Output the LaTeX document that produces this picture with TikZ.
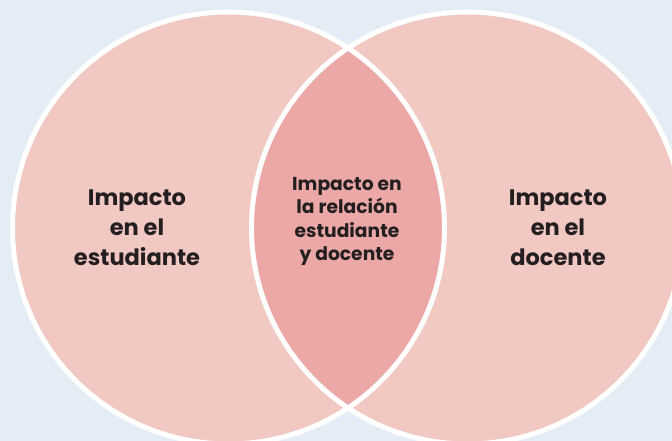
\documentclass[tikz,border=0pt]{standalone}
\usepackage{fontspec}
\setmainfont{Poppins}
\pgfdeclarelayer{background}
\pgfdeclarelayer{foreground}
\pgfsetlayers{background,main,foreground}
\definecolor{bgblue}{HTML}{E4ECF6}
\definecolor{petal}{HTML}{F2C8C3}
\definecolor{lensred}{HTML}{ECA8A6}
\definecolor{ink}{HTML}{231F20}
\tikzset{
  sidetext/.style={align=center,text=ink,font=\bfseries\fontsize{22.5}{30}\selectfont},
  midtext/.style={align=center,text=ink,font=\bfseries\fontsize{18.7}{23.5}\selectfont},
  rim/.style={draw=white,line width=5pt}
}

\begin{document}
\begin{tikzpicture}[x=1pt,y=-1pt]
\useasboundingbox (0,0) rectangle (672,441);
\coordinate (L) at (228.5,228);
\coordinate (R) at (467.5,228);
\begin{pgfonlayer}{background}
\fill[bgblue] (0,0) rectangle (672,441);
\fill[petal] (L) circle (216pt); %left
\fill[petal] (R) circle (216pt); %right
\begin{scope}
\clip (L) circle (216pt);
\fill[lensred] (R) circle (216pt); %overlap
\end{scope}
\end{pgfonlayer}
\draw[rim] (L) circle (216pt);
\draw[rim] (R) circle (216pt);
\begin{pgfonlayer}{foreground}
\node[sidetext] (student) at (137,228) {Impacto\\en el\\estudiante};
\node[midtext] (both) at (347,221.5) {Impacto en\\la relación\\estudiante\\y docente};
\node[sidetext] (teacher) at (558,228) {Impacto\\en el\\docente};
\end{pgfonlayer}
\end{tikzpicture}
\end{document}
